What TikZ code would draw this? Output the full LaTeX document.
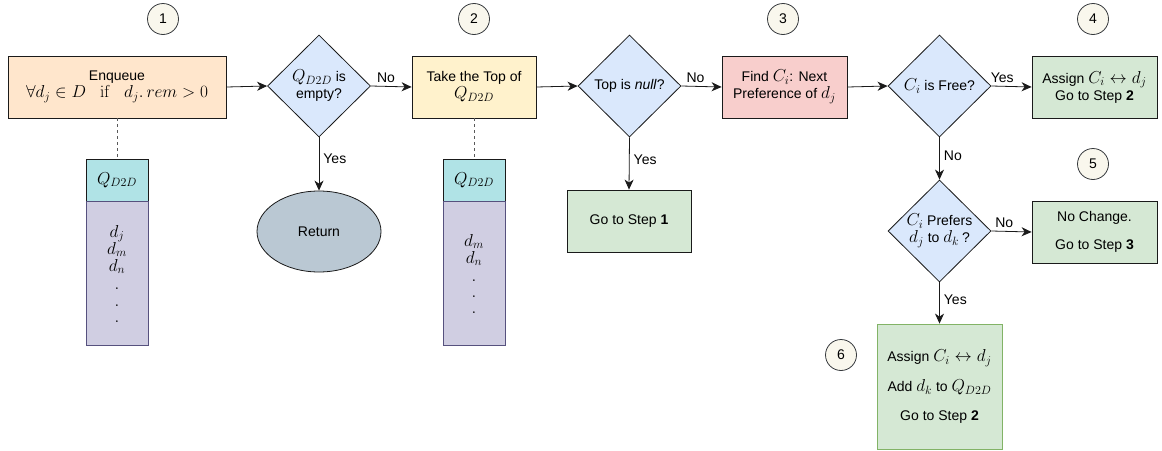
\documentclass[tikz,border=0pt]{standalone}
\usepackage[no-math]{fontspec}
\setmainfont{Liberation Sans}
\usetikzlibrary{shapes.geometric,arrows.meta}
% formulas are set a little larger than the surrounding labels
\DeclareMathSizes{14}{17}{12.5}{10}

\definecolor{linec}{HTML}{1A1A1A}
\definecolor{enqfill}{HTML}{FFE6CC}
\definecolor{takefill}{HTML}{FFF2CC}
\definecolor{findfill}{HTML}{F8CECC}
\definecolor{decfill}{HTML}{DAE8FC}
\definecolor{grfill}{HTML}{D5E8D4}
\definecolor{grline}{HTML}{82B366}
\definecolor{headfill}{HTML}{B0E3E6}
\definecolor{bodyfill}{HTML}{D0CEE2}
\definecolor{bodyline}{HTML}{56517E}
\definecolor{retfill}{HTML}{BAC8D3}
\definecolor{numfill}{HTML}{F9F7ED}
\definecolor{numline}{HTML}{36393D}

\tikzset{
  stepbox/.style={draw=linec, line width=0.8pt, minimum width=124pt,
    minimum height=62pt, align=center, inner sep=2pt},
  decision/.style={diamond, draw=linec, line width=0.8pt, fill=decfill,
    minimum width=103pt, minimum height=102pt, inner sep=0pt, align=center},
  stepnum/.style={circle, draw=numline, line width=0.8pt, fill=numfill,
    minimum size=31pt, inner sep=0pt},
  qhead/.style={draw=linec, line width=0.8pt, fill=headfill,
    minimum width=62pt, minimum height=42pt, inner sep=0pt},
  qbody/.style={draw=bodyline, line width=0.8pt, fill=bodyfill,
    minimum width=62pt, minimum height=144pt, inner sep=0pt, align=center},
  flow/.style={-{Stealth[length=10pt,width=9pt,inset=3pt]}, line width=0.8pt, draw=linec},
  link/.style={dashed, dash pattern=on 3pt off 3pt, line width=0.8pt, draw=black!65},
  lab/.style={inner sep=1pt}
}

\begin{document}
\begin{tikzpicture}[x=1pt, y=-1pt, font=\fontsize{14}{17}\selectfont]
\useasboundingbox (0,0) rectangle (1162,450);

% step numbers
\node[stepnum] (n1) at (163,19) {1};
\node[stepnum] (n2) at (474,19) {2};
\node[stepnum] (n3) at (783,19) {3};
\node[stepnum] (n4) at (1093,19) {4};
\node[stepnum] (n5) at (1093,164) {5};
\node[stepnum] (n6) at (841,355) {6};

% main row
\node[stepbox, fill=enqfill, minimum width=218pt] (enq) at (117,87)
  {Enqueue\\$\forall d_j \in D\quad\mathrm{if}\quad d_j.\,rem > 0$};
\node[decision] (empty) at (319,86) {$Q_{D2D}$ is\\empty?};
\node[ellipse, draw=linec, line width=0.8pt, fill=retfill,
  minimum width=124pt, minimum height=81pt] (ret) at (319,231.5) {Return};
\node[stepbox, fill=takefill] (take) at (474,87) {Take the Top of\\$Q_{D2D}$};
\node[decision] (null) at (629.5,86) {Top is \textit{null}?};
\node[stepbox, fill=grfill] (back1) at (629,221) {Go to Step \textbf{1}};
\node[stepbox, fill=findfill, minimum width=125pt] (find) at (784.5,87)
  {Find $C_i$: Next\\Preference of $d_j$};
\node[decision] (free) at (939.5,86) {$C_i$ is Free?};
\node[stepbox, fill=grfill, minimum width=125pt] (assign) at (1094.5,87)
  {Assign $C_i \leftrightarrow d_j$\\Go to Step \textbf{2}};
\node[decision] (prefers) at (939.5,231) {$C_i$ Prefers\\$d_j$ to $d_k\,$?};
\node[stepbox, fill=grfill, minimum width=125pt] (nochange) at (1094.5,232)
  {No Change.\\[11pt]Go to Step \textbf{3}};
\node[stepbox, fill=grfill, draw=grline, minimum width=125pt, minimum height=125pt]
  (swap) at (939.5,386.5)
  {Assign $C_i \leftrightarrow d_j$\\[13pt]Add $d_k$ to $Q_{D2D}$\\[12pt]Go to Step \textbf{2}};

% queues
\node[qhead] (qh1) at (117,180) {$Q_{D2D}$};
\node[qbody, anchor=north] (qb1) at (qh1.south)
  {$d_j$\\[0pt]$d_m$\\[0pt]$d_n$\\[1pt]$.$\\[0pt]$.$\\[-1pt]$.$};
\node[qhead] (qh2) at (474,180) {$Q_{D2D}$};
\node[qbody, anchor=north] (qb2) at (qh2.south)
  {$d_m$\\[0pt]$d_n$\\[1pt]$.$\\[-1pt]$.$\\[-1pt]$.$};

\draw[link] (enq.south) -- (qh1.north);
\draw[link] (take.south) -- (qh2.north);

% connectors
\draw[flow] (enq.east) -- (empty.west);
\draw[flow] (empty.east) -- node[lab, pos=0.37, above=2pt] {No} (take.west);
\draw[flow] (empty.south) -- node[lab, pos=0.41, right=3pt] {Yes} (ret.north);
\draw[flow] (take.east) -- (null.west);
\draw[flow] (null.east) -- node[lab, pos=0.35, above=2pt] {No} (find.west);
\draw[flow] (null.south) -- node[lab, pos=0.42, right=3pt] {Yes} (back1.north);
\draw[flow] (find.east) -- (free.west);
\draw[flow] (free.east) -- node[lab, pos=0.27, above=2pt] {Yes} (assign.west);
\draw[flow] (free.south) -- node[lab, pos=0.44, right=3pt] {No} (prefers.north);
\draw[flow] (prefers.east) -- node[lab, pos=0.32, above=2pt] {No} (nochange.west);
\draw[flow] (prefers.south) -- node[lab, pos=0.43, right=3pt] {Yes} (swap.north);
\end{tikzpicture}
\end{document}
